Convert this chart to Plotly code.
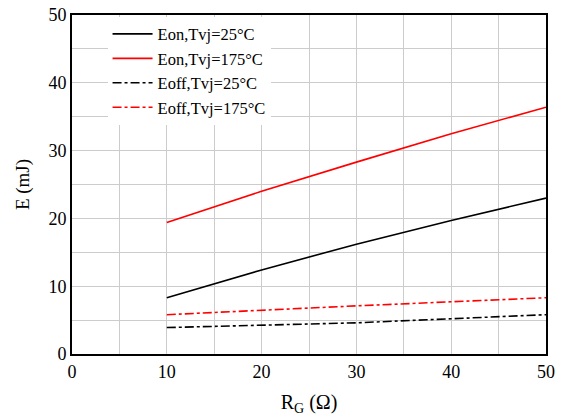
import plotly.graph_objects as go

rg = [10, 20, 30, 40, 50]
eon_25 = [8.3, 12.4, 16.2, 19.7, 23.0]
eon_175 = [19.4, 24.0, 28.3, 32.5, 36.4]
eoff_25 = [3.9, 4.3, 4.6, 5.2, 5.8]
eoff_175 = [5.8, 6.5, 7.1, 7.7, 8.3]

names = ["Eon,Tvj=25°C", "Eon,Tvj=175°C", "Eoff,Tvj=25°C", "Eoff,Tvj=175°C"]
series = [eon_25, eon_175, eoff_25, eoff_175]
colors = ["#000000", "#ff0000", "#000000", "#ff0000"]
dashes = ["solid", "solid", "dashdot", "dashdot"]

fig = go.Figure()
for n, s, c, d in zip(names, series, colors, dashes):
    fig.add_trace(go.Scatter(x=rg, y=s, mode="lines", name=n,
                             line=dict(color=c, width=1.6, dash=d)))

font = "Times New Roman"
fig.update_layout(
    width=562, height=419,
    margin=dict(l=72, r=16, t=15, b=65, autoexpand=False),
    paper_bgcolor="white", plot_bgcolor="white",
    font=dict(family=font, size=17, color="black"),
    showlegend=True,
    legend=dict(x=0.075, y=0.995, xanchor="left", yanchor="top",
                bgcolor="white", font=dict(family=font, size=16.5, color="black"),
                itemwidth=40, tracegroupgap=0),
    xaxis=dict(range=[0, 50], dtick=10, showline=True, linecolor="black",
               linewidth=2, mirror=True, showgrid=True, gridcolor="#cccccc",
               gridwidth=1, ticks="", zeroline=False, automargin=False,
               minor=dict(dtick=5, showgrid=True, gridcolor="#cccccc", gridwidth=1),
               title=dict(text="R<sub>G</sub> (Ω)", font=dict(family=font, size=20), standoff=14),
               tickfont=dict(family=font, size=18, color="black")),
    yaxis=dict(range=[0, 50], dtick=10, showline=True, linecolor="black",
               linewidth=2, mirror=True, showgrid=True, gridcolor="#cccccc",
               gridwidth=1, ticks="", zeroline=False, automargin=False,
               minor=dict(dtick=5, showgrid=True, gridcolor="#cccccc", gridwidth=1),
               title=dict(text="E (mJ)", font=dict(family=font, size=19), standoff=14),
               tickfont=dict(family=font, size=18, color="black")),
)
fig.write_html("out.html", config={"displayModeBar": False},
               post_script="document.body.style.margin='0';document.body.style.overflow='hidden';")
